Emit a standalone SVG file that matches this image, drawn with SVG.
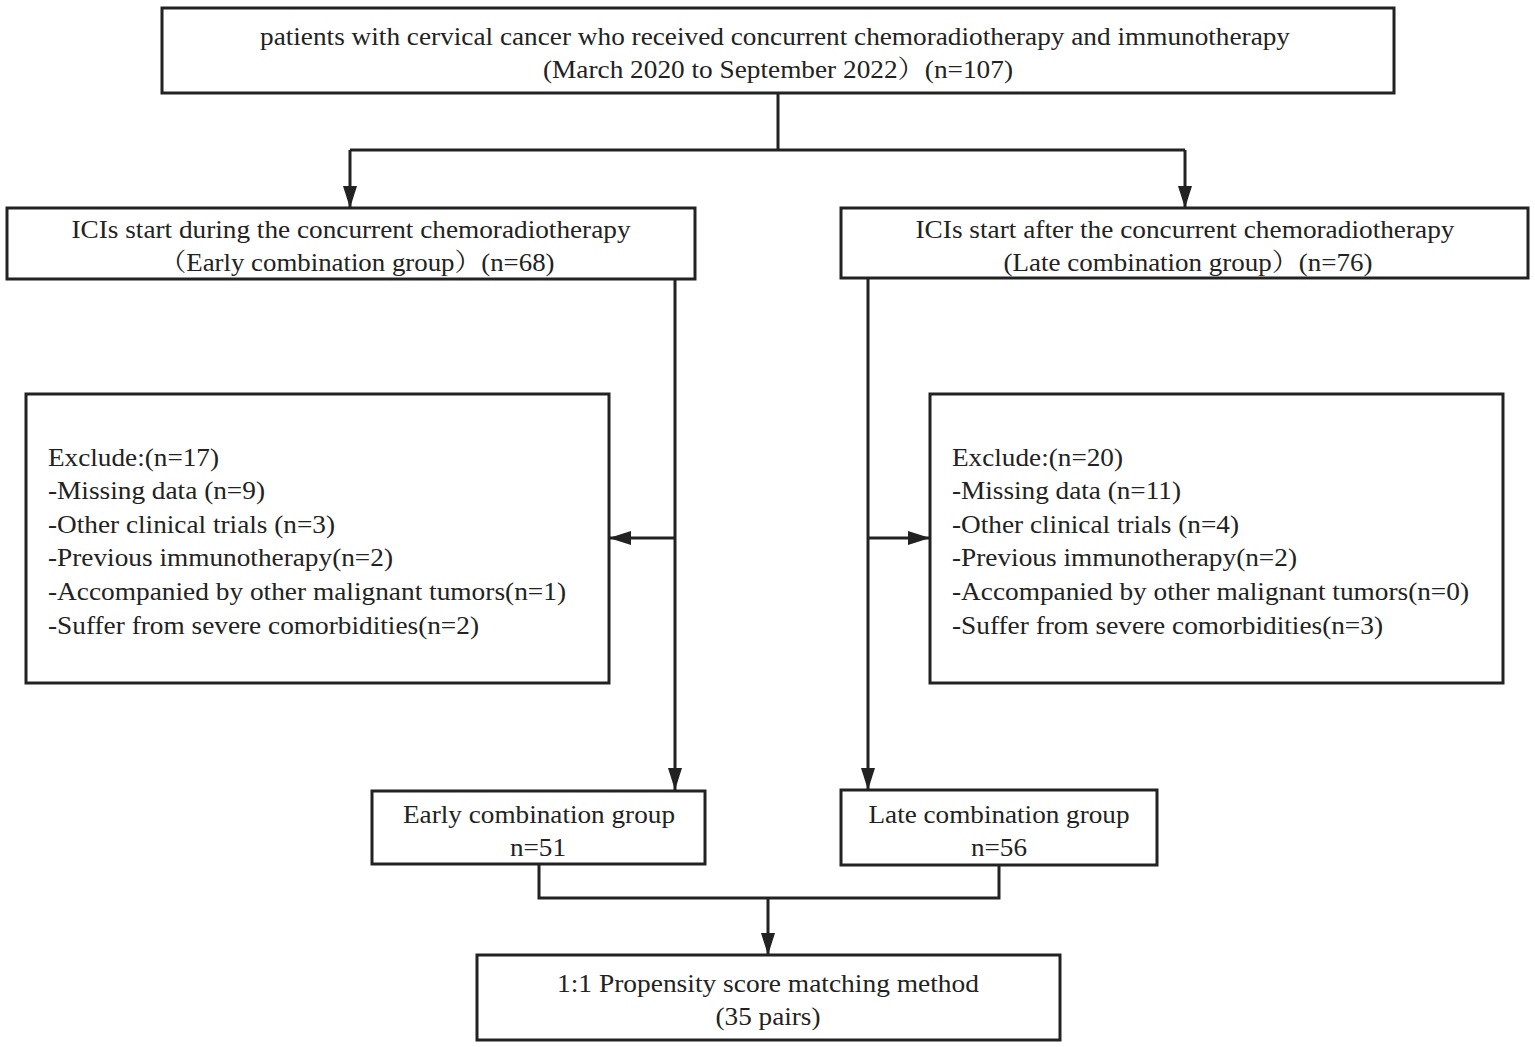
<svg xmlns="http://www.w3.org/2000/svg" width="1535" height="1047" viewBox="0 0 1535 1047">
<style>
.box{fill:#fff;stroke:#222;stroke-width:3}
.ln{fill:none;stroke:#222;stroke-width:3}
text{font-family:"Liberation Serif","Noto Serif CJK SC","Noto Sans CJK SC",serif;font-size:25px;fill:#222}
.c{text-anchor:middle}
</style>
<defs>
<marker id="ah" markerUnits="userSpaceOnUse" markerWidth="22" markerHeight="14" refX="22" refY="7" orient="auto">
<path d="M0,0 L22,7 L0,14 z" fill="#222"/>
</marker>
</defs>
<rect width="1535" height="1047" fill="#fff"/>
<g id="connectors">
<path class="ln" d="M778,93 V150 M350,150 H1185"/>
<path class="ln" d="M350,150 V208" marker-end="url(#ah)"/>
<path class="ln" d="M1185,150 V208" marker-end="url(#ah)"/>
<path class="ln" d="M675,279 V790" marker-end="url(#ah)"/>
<path class="ln" d="M675,538 H609" marker-end="url(#ah)"/>
<path class="ln" d="M868,278 V790" marker-end="url(#ah)"/>
<path class="ln" d="M868,538 H930" marker-end="url(#ah)"/>
<path class="ln" d="M539,864 V898 H999 V865"/>
<path class="ln" d="M768,898 V955" marker-end="url(#ah)"/>
</g>
<g id="top">
<rect class="box" x="162" y="8" width="1232" height="85"/>
<text x="775" y="45" class="c" textLength="1030" lengthAdjust="spacingAndGlyphs">patients with cervical cancer who received concurrent chemoradiotherapy and immunotherapy</text>
<text x="778" y="78" class="c" textLength="470" lengthAdjust="spacingAndGlyphs">(March 2020 to September 2022）(n=107)</text>
</g>
<g id="early-start">
<rect class="box" x="7" y="208" width="688" height="71"/>
<text x="351" y="238" class="c" textLength="559" lengthAdjust="spacingAndGlyphs">ICIs start during the concurrent chemoradiotherapy</text>
<text x="357" y="271" class="c" textLength="395" lengthAdjust="spacingAndGlyphs">（Early combination group）(n=68)</text>
</g>
<g id="late-start">
<rect class="box" x="841" y="208" width="687" height="70"/>
<text x="1185" y="238" class="c" textLength="539" lengthAdjust="spacingAndGlyphs">ICIs start after the concurrent chemoradiotherapy</text>
<text x="1188" y="271" class="c" textLength="369" lengthAdjust="spacingAndGlyphs">(Late combination group）(n=76)</text>
</g>
<g id="exclude-left">
<rect class="box" x="26" y="394" width="583" height="289"/>
<text x="48" y="466" textLength="171" lengthAdjust="spacingAndGlyphs">Exclude:(n=17)</text>
<text x="48" y="499" textLength="217" lengthAdjust="spacingAndGlyphs">-Missing data (n=9)</text>
<text x="48" y="533" textLength="287" lengthAdjust="spacingAndGlyphs">-Other clinical trials (n=3)</text>
<text x="48" y="566" textLength="345" lengthAdjust="spacingAndGlyphs">-Previous immunotherapy(n=2)</text>
<text x="48" y="600" textLength="518" lengthAdjust="spacingAndGlyphs">-Accompanied by other malignant tumors(n=1)</text>
<text x="48" y="634" textLength="431" lengthAdjust="spacingAndGlyphs">-Suffer from severe comorbidities(n=2)</text>
</g>
<g id="exclude-right">
<rect class="box" x="930" y="394" width="573" height="289"/>
<text x="952" y="466" textLength="171" lengthAdjust="spacingAndGlyphs">Exclude:(n=20)</text>
<text x="952" y="499" textLength="229" lengthAdjust="spacingAndGlyphs">-Missing data (n=11)</text>
<text x="952" y="533" textLength="287" lengthAdjust="spacingAndGlyphs">-Other clinical trials (n=4)</text>
<text x="952" y="566" textLength="345" lengthAdjust="spacingAndGlyphs">-Previous immunotherapy(n=2)</text>
<text x="952" y="600" textLength="517" lengthAdjust="spacingAndGlyphs">-Accompanied by other malignant tumors(n=0)</text>
<text x="952" y="634" textLength="431" lengthAdjust="spacingAndGlyphs">-Suffer from severe comorbidities(n=3)</text>
</g>
<g id="early-group">
<rect class="box" x="372" y="791" width="333" height="73"/>
<text x="539" y="823" class="c" textLength="272" lengthAdjust="spacingAndGlyphs">Early combination group</text>
<text x="538" y="856" class="c" textLength="56" lengthAdjust="spacingAndGlyphs">n=51</text>
</g>
<g id="late-group">
<rect class="box" x="841" y="790" width="316" height="75"/>
<text x="999" y="823" class="c" textLength="261" lengthAdjust="spacingAndGlyphs">Late combination group</text>
<text x="999" y="856" class="c" textLength="56" lengthAdjust="spacingAndGlyphs">n=56</text>
</g>
<g id="psm">
<rect class="box" x="477" y="955" width="583" height="85"/>
<text x="768" y="992" class="c" textLength="422" lengthAdjust="spacingAndGlyphs">1:1 Propensity score matching method</text>
<text x="768" y="1025" class="c" textLength="105" lengthAdjust="spacingAndGlyphs">(35 pairs)</text>
</g>
</svg>
